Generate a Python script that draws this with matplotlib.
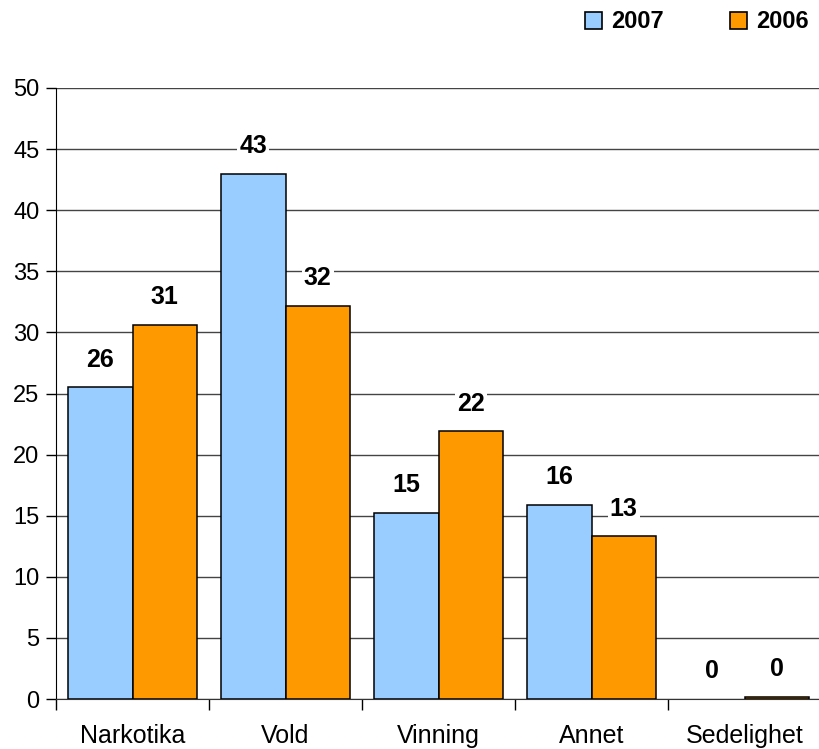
import matplotlib
matplotlib.use("Agg")
import matplotlib.pyplot as plt
from matplotlib.patches import Patch
import numpy as np

plt.rcParams['font.family'] = ['Liberation Sans', 'DejaVu Sans']

categories = ["Narkotika", "Vold", "Vinning", "Annet", "Sedelighet"]
series_names = ["2007", "2006"]
values_2007 = [25.5, 43.0, 15.2, 15.9, 0.0]
values_2006 = [30.6, 32.2, 21.9, 13.3, 0.2]
labels_2007 = ["26", "43", "15", "16", "0"]
labels_2006 = ["31", "32", "22", "13", "0"]
yticks = [0, 5, 10, 15, 20, 25, 30, 35, 40, 45, 50]

c2007 = "#99CCFF"
c2006 = "#FF9900"

fig = plt.figure(figsize=(8.19, 7.49), dpi=100)
ax = fig.add_axes([56/819, 50/749, 765/819, 611/749])

x = np.arange(len(categories))
w = 0.42
lw07 = [1.1 if v > 0 else 0 for v in values_2007]
lw06 = [1.1 if v > 0 else 0 for v in values_2006]
b1 = ax.bar(x - w/2, values_2007, w, color=c2007, edgecolor="black", linewidth=lw07, zorder=3)
b2 = ax.bar(x + w/2, values_2006, w, color=c2006, edgecolor="black", linewidth=lw06, zorder=3)

for bars, labs in ((b1, labels_2007), (b2, labels_2006)):
    for r, lab in zip(bars, labs):
        ax.annotate(lab, (r.get_x() + r.get_width()/2, r.get_height()),
                    xytext=(0, 20), textcoords="offset points", ha="center", va="center",
                    fontsize=18, fontweight="bold", zorder=4,
                    bbox=dict(facecolor="white", edgecolor="none", pad=1.5))

ax.set_xlim(-0.5, 4.5)
ax.set_ylim(0, 50)
ax.set_yticks(yticks)
ax.tick_params(axis="y", labelsize=17, length=7, width=1, direction="out", pad=5)
ax.yaxis.grid(True, color="#444444", linewidth=1.0, zorder=0)
ax.set_axisbelow(True)

ax.set_xticks(np.arange(-0.5, 4.6, 1.0))
ax.set_xticklabels([])
ax.tick_params(axis="x", which="major", length=8, width=1, direction="out")
ax.set_xticks(x, minor=True)
ax.set_xticklabels(categories, minor=True)
ax.tick_params(axis="x", which="minor", length=0, labelsize=18, pad=18)

for s in ("top", "right"):
    ax.spines[s].set_visible(False)
ax.spines["left"].set_color("black")
ax.spines["bottom"].set_color("#333333")

handles = [Patch(facecolor=c2007, edgecolor="black", linewidth=1.2),
           Patch(facecolor=c2006, edgecolor="black", linewidth=1.2)]
fig.legend(handles, series_names, loc="center", bbox_to_anchor=(697/819, 1 - 22/749),
           ncol=2, frameon=False, prop=dict(size=17, weight="bold"),
           handlelength=0.7, handleheight=0.7, handletextpad=0.4, columnspacing=2.8)

fig.savefig("out.png", dpi=100)
